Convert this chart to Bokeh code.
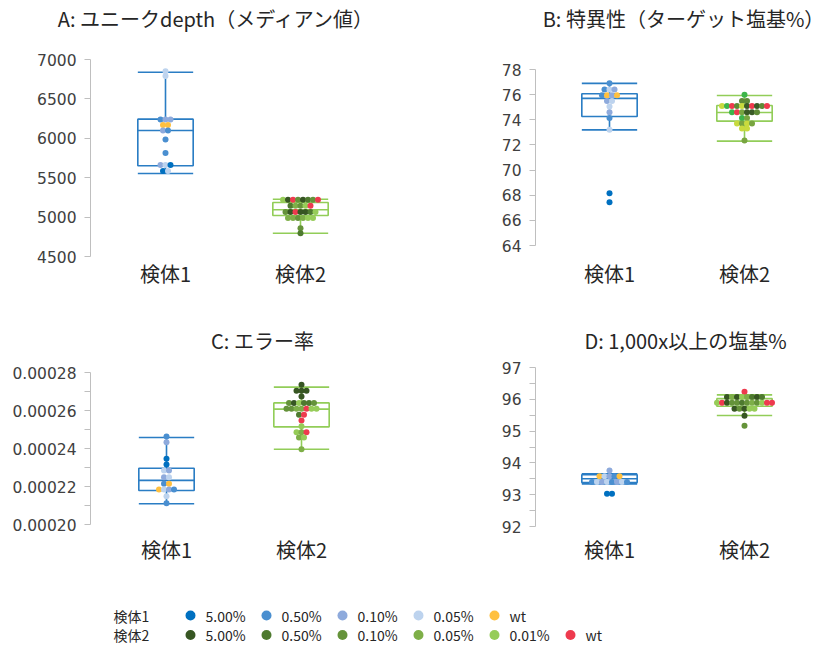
from bokeh.plotting import figure
from bokeh.layouts import column, row
from bokeh.models import FixedTicker, PrintfTickFormatter, Range1d, ColumnDataSource
from bokeh.embed import file_html
from bokeh.resources import INLINE
from bokeh.core.properties import value

JP_FONT = "Noto Sans CJK JP"
NUM_FONT = "DejaVu Sans"

# ---------------- data ----------------
samples = ["検体1", "検体2"]
series1 = ["5.00%", "0.50%", "0.10%", "0.05%", "wt"]
series2 = ["5.00%", "0.50%", "0.10%", "0.05%", "0.01%", "wt"]
colors1 = ["#0070C0", "#4A8FD0", "#8EAADC", "#BDD3EE", "#FFC03F"]
colors2 = ["#375623", "#4E7A2F", "#65933A", "#7EAF48", "#96CC58", "#EE3A4E"]
colors2_b = ["#3A5A27", "#5E8A36", "#3DB54A", "#C8DA3E", "#78A540", "#EE3A4E"]
box_colors = ["#2A7DC4", "#92CD58"]

titles = ["A: ユニークdepth（メディアン値）", "B: 特異性（ターゲット塩基%）",
          "C: エラー率", "D: 1,000x以上の塩基%"]

# Panel A
a_s1_vals = [6850, 6790, 6240, 6240, 6240, 6170, 6170, 6100, 6100, 5985, 5815,
             5660, 5660, 5660, 5585, 5585]
a_s1_ser = ["0.05%", "0.05%", "0.50%", "0.10%", "0.10%", "wt", "wt", "0.10%", "0.50%",
            "0.50%", "0.50%", "0.10%", "0.05%", "5.00%", "5.00%", "0.05%"]
a_s2_vals = [5220, 5220, 5220, 5220, 5220, 5220, 5220, 5220,
             5145, 5145, 5145, 5145, 5145,
             5065, 5065, 5065, 5065, 5065, 5065, 5065,
             4990, 4990, 4990, 4990, 4990, 4990,
             4860, 4795]
a_s2_ser = ["0.01%", "5.00%", "wt", "0.10%", "5.00%", "0.50%", "0.10%", "wt",
            "0.50%", "0.05%", "0.10%", "0.01%", "wt",
            "0.10%", "5.00%", "wt", "5.00%", "5.00%", "0.50%", "0.01%",
            "0.05%", "0.05%", "0.10%", "0.05%", "0.01%", "0.01%",
            "0.10%", "0.50%"]
a_lo = [5553, 4796]
a_q1 = [5651, 5020]
a_med = [6099, 5093]
a_q3 = [6243, 5185]
a_hi = [6839, 5227]
a_ticks = [4500, 5000, 5500, 6000, 6500, 7000]

# Panel B
b_s1_vals = [76.9, 76.4, 76.4, 76.4, 75.95, 75.95, 75.95, 75.95, 75.5, 75.5,
             75.05, 74.6, 74.15, 73.2, 68.15, 67.45]
b_s1_ser = ["0.50%", "0.50%", "0.05%", "0.10%", "0.50%", "wt", "0.10%", "wt",
            "0.10%", "0.05%", "0.05%", "0.10%", "0.50%", "0.05%", "5.00%", "5.00%"]
b_s2_vals = [76.0, 75.5, 75.5,
             75.1, 75.1, 75.1, 75.1, 75.1, 75.1, 75.1, 75.1, 75.1, 75.1,
             74.6, 74.6, 74.6, 74.6, 74.6, 74.6,
             74.15, 74.15,
             73.7, 73.7, 73.7, 73.7,
             73.3, 73.3, 72.35]
b_s2_ser = ["0.10%", "0.50%", "0.50%",
            "0.05%", "0.10%", "wt", "0.50%", "0.05%", "5.00%", "wt", "5.00%", "0.50%", "wt",
            "0.10%", "wt", "0.01%", "5.00%", "5.00%", "0.50%",
            "0.10%", "0.01%",
            "0.05%", "0.01%", "0.05%", "0.01%",
            "0.05%", "0.05%", "0.01%"]
b_lo = [73.2, 72.3]
b_q1 = [74.26, 73.89]
b_med = [75.7, 74.58]
b_q3 = [76.07, 75.14]
b_hi = [76.9, 75.93]
b_ticks = [64, 66, 68, 70, 72, 74, 76, 78]

# Panel C
c_s1_vals = [0.0002463, 0.0002433, 0.0002346, 0.0002316, 0.0002284, 0.0002284,
             0.0002249, 0.0002249, 0.0002214, 0.0002214,
             0.0002184, 0.0002184, 0.0002184, 0.0002184, 0.0002149, 0.0002112]
c_s1_ser = ["0.50%", "0.10%", "5.00%", "5.00%", "0.05%", "0.10%", "0.10%", "0.05%",
            "0.50%", "wt", "wt", "0.05%", "0.10%", "0.50%", "0.05%", "0.50%"]
c_s2_vals = [0.0002735,
             0.0002704, 0.0002704, 0.0002704,
             0.0002674,
             0.0002640, 0.0002640, 0.0002640, 0.0002640, 0.0002640, 0.0002640,
             0.0002609, 0.0002609, 0.0002609, 0.0002609, 0.0002609, 0.0002609, 0.0002609,
             0.0002577, 0.0002577,
             0.0002547,
             0.0002517,
             0.0002486, 0.0002486, 0.0002486,
             0.0002458, 0.0002458,
             0.0002396]
c_s2_ser = ["5.00%",
            "5.00%", "5.00%", "5.00%",
            "5.00%",
            "0.10%", "5.00%", "0.01%", "0.50%", "0.50%", "0.10%",
            "0.10%", "0.10%", "0.05%", "0.05%", "wt", "0.01%", "0.01%",
            "0.50%", "wt",
            "wt",
            "0.01%",
            "0.01%", "0.05%", "wt",
            "0.05%", "0.01%",
            "0.05%"]
c_lo = [0.0002109, 0.0002396]
c_q1 = [0.0002179, 0.0002514]
c_med = [0.0002232, 0.0002607]
c_q3 = [0.0002296, 0.0002640]
c_hi = [0.0002458, 0.0002723]
c_ticks = [0.00020, 0.00022, 0.00024, 0.00026, 0.00028]
c_minor = [0.00021, 0.00023, 0.00025, 0.00027]

# Panel D
d_s1_vals = [93.76,
             93.58, 93.58, 93.58, 93.58, 93.58,
             93.40, 93.40, 93.40, 93.40, 93.40, 93.40, 93.40, 93.40,
             93.03, 93.03]
d_s1_ser = ["0.10%",
            "wt", "0.05%", "0.10%", "0.50%", "wt",
            "0.50%", "0.05%", "0.10%", "0.05%", "0.50%", "0.10%", "0.05%", "0.50%",
            "5.00%", "5.00%"]
d_s2_vals = [96.24,
             96.07, 96.07, 96.07, 96.07, 96.07, 96.07, 96.07, 96.07,
             95.89, 95.89, 95.89, 95.89, 95.89, 95.89, 95.89, 95.89, 95.89, 95.89, 95.89, 95.89,
             95.70, 95.70, 95.70, 95.70, 95.70,
             95.48, 95.17]
d_s2_ser = ["wt",
            "5.00%", "0.05%", "5.00%", "0.01%", "0.05%", "0.50%", "5.00%", "0.50%",
            "0.01%", "wt", "5.00%", "0.10%", "0.10%", "0.50%", "0.10%", "0.05%", "0.10%", "0.01%", "wt", "wt",
            "5.00%", "0.10%", "5.00%", "0.01%", "0.01%",
            "5.00%", "0.10%"]
d_lo = [93.34, 95.49]
d_q1 = [93.38, 95.78]
d_med = [93.50, 95.88]
d_q3 = [93.63, 96.02]
d_hi = [93.66, 96.14]
d_ticks = [92, 93, 94, 95, 96, 97]
d_minor = [92.5, 93.5, 94.5, 95.5, 96.5]

# ---------------- drawing ----------------
W = 833
PX_UNIT = 135.0   # pixels per category step
BOX_W = 0.41      # box width in category units
DOT_PX = 5.0      # horizontal step between swarm dots (px)
TICK_COL = "#BFBFBF"
TEXT_COL = "#404040"
TITLE_COL = "#262626"


def swarm_x(center, vals, step):
    counts = {}
    for v in vals:
        counts[v] = counts.get(v, 0) + 1
    seen = {}
    xs = []
    for v in vals:
        i = seen.get(v, 0)
        seen[v] = i + 1
        xs.append(center + (i - (counts[v] - 1) / 2.0) * step)
    return xs


def blank(h):
    f = figure(width=W, height=h, x_range=Range1d(0, W), y_range=Range1d(0, h),
               output_backend="svg", toolbar_location=None, min_border=0)
    f.outline_line_color = None
    f.axis.visible = False
    f.grid.visible = False
    return f


def title_strip(h, texts, centers, cy):
    f = blank(h)
    f.text(centers, [h - cy] * len(texts), text=texts, text_font=value(JP_FONT),
           text_font_size=value("20px"), text_color=TITLE_COL,
           text_align="center", text_baseline="middle")
    return f


def panel(s1v, s1s, s2v, s2s, lo, q1, med, q3, hi,
          axis_px, ticks, minor, fmt, w, h, bl, br, bt, bb, lab_stand, pal2, lead_px):
    """axis_px = (pixel y of first tick, pixel y of last tick) inside the figure."""
    frame_w = w - bl - br
    x0 = 1 - lead_px / PX_UNIT
    t0, t1 = ticks[0], ticks[-1]
    py0, py1 = axis_px
    per_px = (t1 - t0) / float(py0 - py1)
    y_lo = t0 - (h - bb - py0) * per_px
    y_hi = t1 + (py1 - bt) * per_px
    p = figure(width=w, height=h, x_range=Range1d(x0, x0 + frame_w / PX_UNIT),
               y_range=Range1d(y_lo, y_hi), output_backend="svg",
               toolbar_location=None, min_border_left=bl, min_border_right=br,
               min_border_top=bt, min_border_bottom=bb, title=None)
    p.outline_line_color = None
    p.xgrid.visible = False
    p.ygrid.visible = False

    yax = p.yaxis[0]
    yax.bounds = (t0, t1)
    yax.ticker = FixedTicker(ticks=ticks, minor_ticks=minor)
    yax.formatter = PrintfTickFormatter(format=fmt)
    yax.axis_line_color = TICK_COL
    yax.major_tick_line_color = TICK_COL
    yax.minor_tick_line_color = TICK_COL
    yax.major_tick_in = 0
    yax.major_tick_out = 6
    yax.minor_tick_in = 0
    yax.minor_tick_out = 6
    yax.major_label_text_font = NUM_FONT
    yax.major_label_text_font_size = "15.5px"
    yax.major_label_text_color = TEXT_COL
    yax.major_label_standoff = 8

    xax = p.xaxis[0]
    xax.ticker = FixedTicker(ticks=[1, 2])
    xax.major_label_overrides = {1: samples[0], 2: samples[1]}
    xax.axis_line_color = None
    xax.major_tick_line_color = None
    xax.minor_tick_line_color = None
    xax.major_tick_out = 0
    xax.major_tick_in = 0
    xax.minor_tick_out = 0
    xax.minor_tick_in = 0
    xax.major_label_text_font = JP_FONT
    xax.major_label_text_font_size = "20px"
    xax.major_label_text_color = TITLE_COL
    xax.major_label_standoff = lab_stand

    xs = [1, 2]
    src = ColumnDataSource(dict(
        x=xs, left=[x - BOX_W / 2 for x in xs], right=[x + BOX_W / 2 for x in xs],
        lo=lo, q1=q1, med=med, q3=q3, hi=hi, color=box_colors))
    lw = 1.6
    p.quad(left="left", right="right", bottom="q1", top="q3", source=src,
           fill_color=None, line_color="color", line_width=lw)
    for a, b, c, d in [("left", "right", "med", "med"), ("x", "x", "q3", "hi"),
                       ("x", "x", "q1", "lo"), ("left", "right", "hi", "hi"),
                       ("left", "right", "lo", "lo")]:
        p.segment(x0=a, x1=b, y0=c, y1=d, source=src, line_color="color", line_width=lw)

    step = DOT_PX / PX_UNIT
    cmap1 = dict(zip(series1, colors1))
    cmap2 = dict(zip(series2, pal2))
    d1 = ColumnDataSource(dict(x=swarm_x(1, s1v, step), y=s1v,
                               c=[cmap1[s] for s in s1s]))
    d2 = ColumnDataSource(dict(x=swarm_x(2, s2v, step), y=s2v,
                               c=[cmap2[s] for s in s2s]))
    p.scatter("x", "y", source=d1, size=6, fill_color="c", line_color=None)
    p.scatter("x", "y", source=d2, size=6, fill_color="c", line_color=None)
    return p


# vertical plan (page pixels): title strip 0-40, row1 40-310, title strip 310-354,
# row2 354-600, legend 600-646
T1_H, R1_H, T2_H, R2_H, LEG_H = 40, 270, 44, 246, 46

t1 = title_strip(T1_H, titles[:2], [216, 683], 18)
pA = panel(a_s1_vals, a_s1_ser, a_s2_vals, a_s2_ser,
           a_lo, a_q1, a_med, a_q3, a_hi, (216, 19), a_ticks, [], "%d",
           430, R1_H, 90, 40, 19, 54, 2, colors2, 75)
pB = panel(b_s1_vals, b_s1_ser, b_s2_vals, b_s2_ser,
           b_lo, b_q1, b_med, b_q3, b_hi, (205, 29), b_ticks, [], "%d",
           403, R1_H, 105, 8, 19, 54, 2, colors2_b, 74)
t2 = title_strip(T2_H, titles[2:], [262, 685], 30)
pC = panel(c_s1_vals, c_s1_ser, c_s2_vals, c_s2_ser,
           c_lo, c_q1, c_med, c_q3, c_hi, (170, 18), c_ticks, c_minor, "%.5f",
           430, R2_H, 90, 40, 13, 74, 8, colors2, 76)
pD = panel(d_s1_vals, d_s1_ser, d_s2_vals, d_s2_ser,
           d_lo, d_q1, d_med, d_q3, d_hi, (172, 13), d_ticks, d_minor, "%d",
           403, R2_H, 105, 8, 13, 74, 8, colors2, 74)

# ---------------- legend ----------------
leg = blank(LEG_H)
LEG_LABEL_X = 113
LEG_X0 = 190
LEG_DX = 76
LEG_ROWS_Y = [31, 11.5]

for r, (names, cols) in enumerate([(series1, colors1), (series2, colors2)]):
    y = LEG_ROWS_Y[r]
    mx = [LEG_X0 + i * LEG_DX for i in range(len(names))]
    leg.scatter(mx, [y] * len(names), size=10, fill_color=cols, line_color=None)
    leg.text([m + 15 for m in mx], [y] * len(names), text=names,
             text_font=value(JP_FONT), text_font_size=value("14px"),
             text_color=TITLE_COL, text_baseline="middle", text_align="left")
    leg.text([LEG_LABEL_X], [y], text=[samples[r]],
             text_font=value(JP_FONT), text_font_size=value("14px"),
             text_color=TITLE_COL, text_baseline="middle", text_align="left")

layout = column(t1, row(pA, pB), t2, row(pC, pD), leg)

open("out.html", "w").write(file_html(layout, INLINE))
